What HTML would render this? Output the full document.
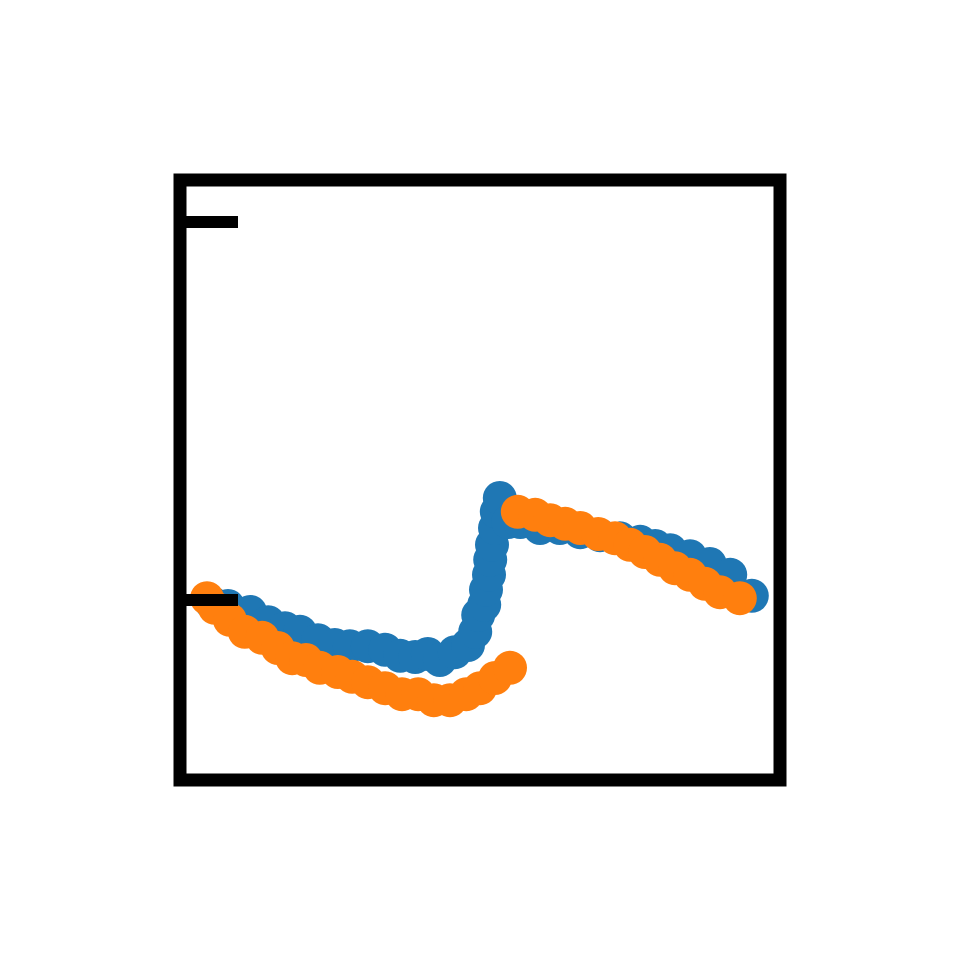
<!DOCTYPE html>
<html><head><meta charset="utf-8"><style>html,body{margin:0;padding:0;background:#fff}svg{display:block}</style></head>
<body>
<svg id="chart" width="960" height="960" viewBox="0 0 960 960" xmlns="http://www.w3.org/2000/svg">
<rect width="960" height="960" fill="#fff"/>
<g id="marks"></g>
<g id="frame"></g>
</svg>
<script>
const blueX = [5.3,8,11.7,14.7,17.5,20,23,25.8,28.3,31.3,34.2,36.7,39.2,41.3,43.3,45.8,48,49.2,49.7,50.7,51,51.5,51.7,52,52.5,52.8,53.3,54.7,56.7,60,63.3,66.7,70,73.3,76.7,79.2,81.7,85,88.3,91.7,95.3];
const blueY = [29.5,29,28,26.3,25.3,24.7,23.3,22.5,22.3,22.3,21.7,20.7,20.5,21,20,21.3,22.5,24.7,27.5,29.2,31.7,34.2,36.7,39.2,42,44.7,47,43,43,42,42,41.3,40.8,40.3,39.7,39,38.3,37.3,36,34.2,30.7];
const orangeX = [4.5,5.8,8.3,10.8,13.7,16.3,18.7,21,23.3,26.3,28.7,31.3,34.2,37,39.7,42.3,45,47.7,50,52.5,55,56.3,59.2,61.7,64.2,66.7,69.7,72.5,75,77.5,80,82.5,85,87.5,90,93.3];
const orangeY = [30.3,28.7,26.7,24.7,23.7,22,20.3,20,18.7,18,17.2,16.3,15.3,14.3,14.3,13.3,13.3,14.3,15.3,17,18.7,44.7,44.2,43.3,42.7,42,41,40.3,39.2,38,36.7,35.3,34.2,32.7,31.3,30.3];
const yTicks = [93, 30];

const NS = "http://www.w3.org/2000/svg";
const L = 180, R = 780, T = 180, B = 780;
function sx(v){ return L + (v/100)*(R-L); }
function sy(v){ return B - (v/100)*(B-T); }

const marks = document.getElementById('marks');
function drawSeries(xs, ys, color, name){
  const g = document.createElementNS(NS,'g');
  
  
  for(let i=0;i<xs.length;i++){
    const c = document.createElementNS(NS,'circle');
    c.setAttribute('cx', sx(xs[i]));
    c.setAttribute('cy', sy(ys[i]));
    c.setAttribute('r', 17);
    c.setAttribute('fill', color);
    
    
    g.appendChild(c);
  }
  marks.appendChild(g);
}
drawSeries(blueX, blueY, '#1f77b4', 'series-blue');
drawSeries(orangeX, orangeY, '#ff7f0e', 'series-orange');

const frame = document.getElementById('frame');
const rect = document.createElementNS(NS,'rect');
rect.setAttribute('x', L); rect.setAttribute('y', T);
rect.setAttribute('width', R-L); rect.setAttribute('height', B-T);
rect.setAttribute('fill', 'none'); rect.setAttribute('stroke', '#000');
rect.setAttribute('stroke-width', 13);
rect.setAttribute('stroke-linejoin', 'miter');


frame.appendChild(rect);
for(const t of yTicks){
  const ln = document.createElementNS(NS,'line');
  ln.setAttribute('x1', L); ln.setAttribute('x2', 238);
  ln.setAttribute('y1', sy(t)); ln.setAttribute('y2', sy(t));
  ln.setAttribute('stroke', '#000'); ln.setAttribute('stroke-width', 12);
  
  
  frame.appendChild(ln);
}
</script>
</body></html>
